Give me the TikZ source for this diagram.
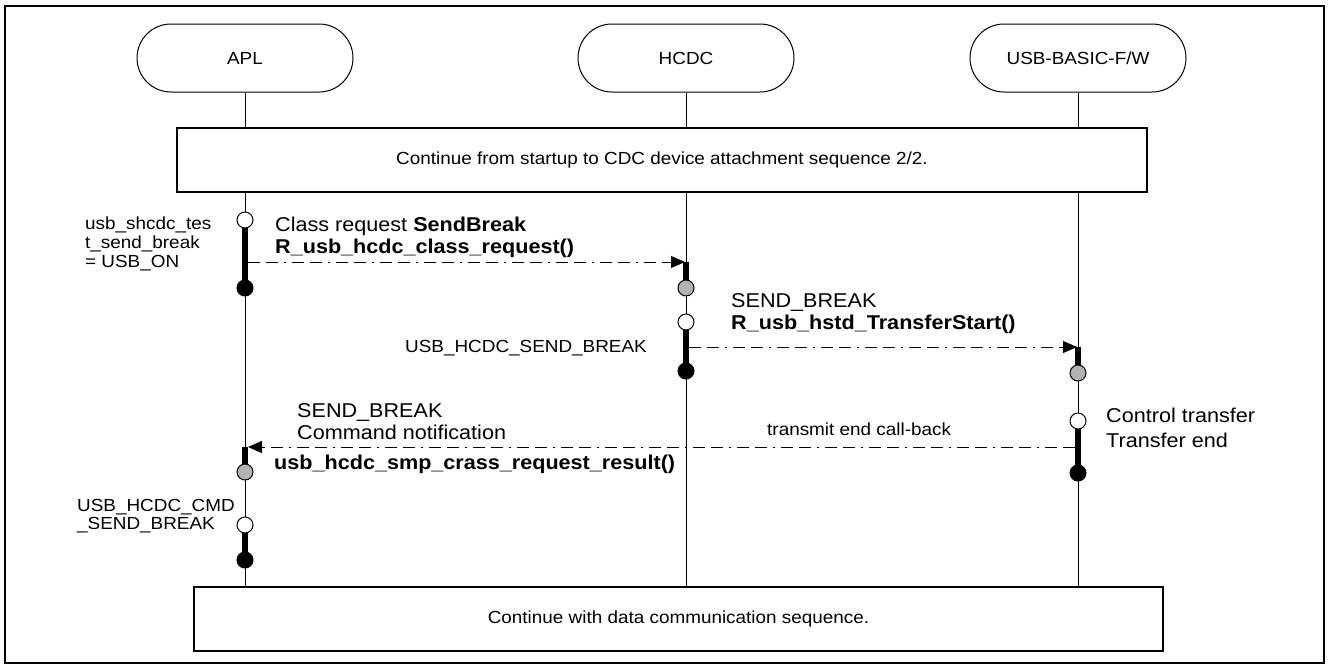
\documentclass[tikz,border=0pt]{standalone}
\usepackage{fontspec}
\setmainfont{Liberation Sans}[FakeStretch=1.08]
\usetikzlibrary{arrows.meta}
\tikzset{
  lane/.style={draw, line width=1pt, rounded corners=34pt, minimum width=216pt, minimum height=68pt, inner sep=0pt, font=\fontsize{17.5}{20}\selectfont},
  band/.style={draw, line width=1.3pt, fill=white, inner sep=0pt, font=\fontsize{17.5}{20}\selectfont},
  life/.style={line width=0.8pt},
  actbar/.style={line width=6pt},
  evopen/.style={circle, draw, line width=1pt, fill=white, minimum size=16pt, inner sep=0pt},
  evgray/.style={circle, draw, line width=1pt, fill=black!30, minimum size=16pt, inner sep=0pt},
  evdone/.style={circle, draw, line width=1pt, fill=black, minimum size=16pt, inner sep=0pt},
  msg/.style={line width=0.9pt, dash pattern=on 12pt off 6pt on 12pt off 6pt on 2pt off 6pt, -{Triangle[length=14pt,width=12pt]}},
  lbl/.style={inner sep=0pt, align=left, font=\fontsize{20}{22}\selectfont},
  side/.style={inner sep=0pt, align=left, font=\fontsize{17.5}{18.7}\selectfont},
}
\begin{document}
\begin{tikzpicture}[x=1pt,y=-1pt]
\useasboundingbox (0,0) rectangle (1328,670);
% frame
\draw[line width=2pt] (5,6) rectangle (1324,663);

% participants
\node[lane] (apl)  at (245,58)  {APL};
\node[lane] (hcdc) at (686,58)  {HCDC};
\node[lane] (usbf) at (1078,58) {USB-BASIC-F/W};

% bottom band (lifelines end on its top edge)
\node[band, minimum width=969pt, minimum height=64pt] (cont) at (678.5,619) {Continue with data communication sequence.};

% lifelines
\draw[life] (apl.south)  -- (apl.south |- cont.north);
\draw[life] (hcdc.south) -- (hcdc.south |- cont.north);
\draw[life] (usbf.south) -- (usbf.south |- cont.north);

% top band
\node[band, minimum width=970pt, minimum height=64pt] (start) at (662,160) {Continue from startup to CDC device attachment sequence 2/2.};

% event points
\coordinate (m1s) at (245,262);
\coordinate (m1t) at (686,262);
\coordinate (m2s) at (686,347);
\coordinate (m2t) at (1078,347);
\coordinate (m3s) at (1078,447);
\coordinate (m3t) at (245,447);

% activation bars
\draw[actbar] (245,220) -- (245,288);
\draw[actbar] (m1t) -- (686,288);
\draw[actbar] (686,322) -- (686,371);
\draw[actbar] (m2t) -- (1078,373);
\draw[actbar] (1078,421) -- (1078,473);
\draw[actbar] (m3t) -- (245,472);
\draw[actbar] (245,525) -- (245,560);

% event circles
\node[evopen] (a1) at (245,220) {};
\node[evdone] (a2) at (245,288) {};
\node[evgray] (h0) at (686,288) {};
\node[evopen] (h1) at (686,322) {};
\node[evdone] (h2) at (686,371) {};
\node[evgray] (u0) at (1078,373) {};
\node[evopen] (u1) at (1078,421) {};
\node[evdone] (u2) at (1078,473) {};
\node[evgray] (a3) at (245,472) {};
\node[evopen] (a4) at (245,525) {};
\node[evdone] (a5) at (245,560) {};

% messages
\draw[msg] ([xshift=3pt]m1s) -- ([xshift=-1pt]m1t);
\draw[msg] ([xshift=3pt]m2s) -- ([xshift=-1pt]m2t);
\draw[msg] ([xshift=-3pt]m3s) -- ([xshift=3pt]m3t);

% labels
\node[side, anchor=west] (l1) at (85,244) {usb\_shcdc\_tes\\t\_send\_break\\= USB\_ON};
\node[lbl, anchor=west] (l2) at (275,237) {Class request \textbf{SendBreak}\\\textbf{R\_usb\_hcdc\_class\_request()}};
\node[side, anchor=east] (l3) at (647,348) {USB\_HCDC\_SEND\_BREAK};
\node[lbl, anchor=west] (l4) at (731,314) {SEND\_BREAK\\\textbf{R\_usb\_hstd\_TransferStart()}};
\node[lbl, anchor=west] (l5) at (297,421.5) {SEND\_BREAK\\Command notification};
\node[lbl, anchor=west] (l6) at (274,464) {\textbf{usb\_hcdc\_smp\_crass\_request\_result()}};
\node[side, anchor=west] (l7) at (767,429) {transmit end call-back};
\node[lbl, anchor=west, font=\fontsize{20}{25}\selectfont] (l8) at (1106,428) {Control transfer\\Transfer end};
\node[side, anchor=west] (l9) at (77,516) {USB\_HCDC\_CMD\\\_SEND\_BREAK};
\end{tikzpicture}
\end{document}
